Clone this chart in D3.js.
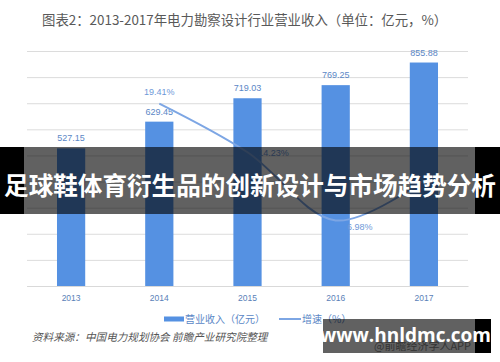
<!DOCTYPE html>
<html><head><meta charset="utf-8">
<script src="https://cdn.jsdelivr.net/npm/d3@7"></script>
<style>
html,body{margin:0;padding:0;background:#fff;}
svg{display:block;}
</style></head>
<body>
<svg id="chart" width="500" height="362"></svg>
<script>
const title = "图表2：2013-2017年电力勘察设计行业营业收入（单位：亿元，%）";
const years = ["2013", "2014", "2015", "2016", "2017"];
const revenue = [527.15, 629.45, 719.03, 769.25, 855.88];
const growth = [null, 19.41, 14.23, 6.98, 11.26];
const growthLabelShown = [false, true, true, true, false];
const yTicks = [0, 100, 200, 300, 400, 500, 600, 700, 800, 900];
const legendLabels = ["营业收入（亿元）", "增速（%）"];
const source = "资料来源：中国电力规划协会 前瞻产业研究院整理";
const bannerText = "足球鞋体育衍生品的创新设计与市场趋势分析";
const siteText = "www.hnldmc.com";
const appText = "@前瞻经济学人APP";

const CJK = "'Noto Sans CJK SC','Noto Sans',sans-serif";
const NUM = "'Liberation Sans','DejaVu Sans',sans-serif";
const barColor = "#5591e2";
const lineColor = "#7da6e4";
const labelColor = "#5b87c6";

const svg = d3.select("#chart");
const plot = {left: 27, right: 468, top: 51, bottom: 286};

const x = d3.scaleBand().domain(years).range([plot.left, plot.right]).paddingInner(0.68).paddingOuter(0.34);
const y = d3.scaleLinear().domain([0, 900]).range([plot.bottom, plot.top]);
const y2 = d3.scaleLinear().domain([0, 25]).range([plot.bottom, plot.top]);

// title
svg.append("text").attr("x", 42).attr("y", 25)
  .attr("font-family", CJK).attr("font-size", 13.4).attr("fill", "#595959")
  .text(title);

// gridlines
const grid = svg.append("g").attr("transform", `translate(${plot.left},0)`)
  .call(d3.axisLeft(y).tickValues(yTicks).tickSize(-(plot.right - plot.left)).tickFormat(""));
grid.select(".domain").remove();
grid.selectAll(".tick line").attr("stroke", "#dcdcdc").attr("stroke-width", 1);

// bars
svg.append("g").selectAll("rect").data(revenue).join("rect")
  .attr("x", (d, i) => x(years[i]))
  .attr("y", d => y(d))
  .attr("width", x.bandwidth())
  .attr("height", d => y(0) - y(d))
  .attr("fill", barColor);

// bar value labels
svg.append("g").selectAll("text").data(revenue).join("text")
  .attr("x", (d, i) => x(years[i]) + x.bandwidth() / 2)
  .attr("y", d => y(d) - 7)
  .attr("text-anchor", "middle")
  .attr("font-family", NUM).attr("font-size", 9).attr("fill", labelColor)
  .text(d => d.toFixed(2));

// x axis
const xa = svg.append("g").attr("transform", `translate(0,${plot.bottom})`)
  .call(d3.axisBottom(x).tickSize(0).tickPadding(9));
xa.select(".domain").attr("stroke", "#d9d9d9");
xa.selectAll("text").attr("font-family", NUM).attr("font-size", 8.5).attr("fill", "#5a7fb8");

// growth line
const pts = years.map((yr, i) => ({yr, v: growth[i], show: growthLabelShown[i]})).filter(d => d.v !== null);
const line = d3.line()
  .x(d => x(d.yr) + x.bandwidth() / 2)
  .y(d => y2(d.v))
  .curve(d3.curveCatmullRom.alpha(0.5));
svg.append("path").datum(pts).attr("d", line)
  .attr("fill", "none").attr("stroke", lineColor).attr("stroke-width", 2);

// growth labels
const labelOffsets = {"2014": [0, -9], "2015": [26, 4], "2016": [24, 10], "2017": [0, -9]};
svg.append("g").selectAll("text").data(pts.filter(d => d.show)).join("text")
  .attr("x", d => x(d.yr) + x.bandwidth() / 2 + labelOffsets[d.yr][0])
  .attr("y", d => y2(d.v) + labelOffsets[d.yr][1])
  .attr("text-anchor", "middle")
  .attr("font-family", NUM).attr("font-size", 9).attr("fill", "#6e98d8")
  .text(d => d.v.toFixed(2) + "%");

// legend
const lg = svg.append("g");
lg.append("rect").attr("x", 164).attr("y", 316.5).attr("width", 20).attr("height", 5).attr("fill", barColor);
lg.append("text").attr("x", 185).attr("y", 322.5)
  .attr("font-family", CJK).attr("font-size", 10).attr("fill", "#5b87c6").text(legendLabels[0]);
lg.append("line").attr("x1", 279).attr("x2", 301).attr("y1", 319).attr("y2", 319)
  .attr("stroke", lineColor).attr("stroke-width", 2);
lg.append("text").attr("x", 302).attr("y", 322.5)
  .attr("font-family", CJK).attr("font-size", 10).attr("fill", "#5b87c6").text(legendLabels[1]);

// source
svg.append("text").attr("x", 32).attr("y", 341)
  .attr("font-family", CJK).attr("font-size", 10.6).attr("font-style", "italic")
  .attr("fill", "#555").text(source);

// app text under watermark box
svg.append("text").attr("x", 374).attr("y", 350)
  .attr("font-family", CJK).attr("font-size", 11).attr("fill", "#8a8a8a").text(appText);

// banner overlay
svg.append("rect").attr("x", 0).attr("y", 147).attr("width", 24).attr("height", 67).attr("fill", "#000");
svg.append("rect").attr("x", 475).attr("y", 147).attr("width", 25).attr("height", 67).attr("fill", "#000");
svg.append("rect").attr("x", 24).attr("y", 147).attr("width", 451).attr("height", 67).attr("fill", "rgba(0,0,0,0.62)");
svg.append("text").attr("x", 250).attr("y", 195)
  .attr("text-anchor", "middle")
  .attr("font-family", CJK).attr("font-weight", "bold").attr("font-size", 24.6).attr("fill", "#fff")
  .text(bannerText);

// site watermark box
svg.append("rect").attr("x", 323).attr("y", 319).attr("width", 152).attr("height", 34).attr("fill", "rgba(0,0,0,0.62)");
svg.append("rect").attr("x", 475).attr("y", 319).attr("width", 16).attr("height", 34).attr("fill", "#000");
svg.append("text").attr("x", 405.5).attr("y", 342)
  .attr("text-anchor", "middle")
  .attr("font-family", "'Open Sans','Liberation Sans',sans-serif").attr("font-weight", "bold")
  .attr("font-size", 19).attr("fill", "#fff").text(siteText);
</script>
</body></html>
